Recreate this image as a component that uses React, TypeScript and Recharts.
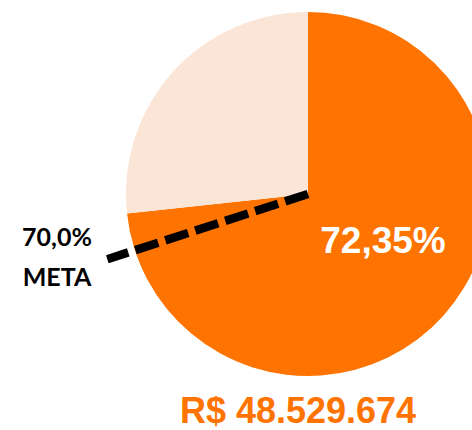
import React from "react";
import { PieChart, Pie, Cell } from "recharts";

// Slice shares as drawn in the picture (achieved vs. remaining)
const sliceNames = ["Realizado", "Restante"];
const sliceValues = [73.3, 26.7];
const sliceColors = ["#FF7300", "#FBE5D6"];

// Target ("meta") as a share of the whole
const metaValue = 70;

// Text shown on the chart
const achievedLabel = "72,35%";
const metaLabel = "70,0%";
const metaCaption = "META";
const totalLabel = "R$ 48.529.674";

const pieData = sliceNames.map((name, i) => ({ name, value: sliceValues[i] }));
const metaData = [
  { name: "meta", value: metaValue },
  { name: "rest", value: 100 - metaValue },
];

const RADIAN = Math.PI / 180;

// Dashed marker drawn along the end edge of the target slice
const renderMetaLine = (props: any) => {
  if (props.index !== 0) return null;
  const { cx, cy, endAngle, outerRadius } = props;
  const x2 = cx + outerRadius * Math.cos(-endAngle * RADIAN);
  const y2 = cy + outerRadius * Math.sin(-endAngle * RADIAN);
  return (
    <line
      x1={cx}
      y1={cy}
      x2={x2}
      y2={y2}
      stroke="#000"
      strokeWidth={8.5}
      strokeDasharray="24 7.5"
    />
  );
};

const App: React.FC = () => {
  return (
    <div style={{ position: "absolute", left: 0, top: 0, width: 472, height: 430, background: "#fff", overflow: "hidden" }}>
      <PieChart width={472} height={430} margin={{ top: 0, right: 0, bottom: 0, left: 0 }}>
        <Pie
          data={pieData}
          dataKey="value"
          cx={308}
          cy={194}
          outerRadius={182}
          startAngle={90}
          endAngle={-270}
          stroke="none"
          isAnimationActive={false}
        >
          {pieData.map((d, i) => (
            <Cell key={d.name} fill={sliceColors[i]} />
          ))}
        </Pie>
        <Pie
          data={metaData}
          dataKey="value"
          cx={308}
          cy={194}
          outerRadius={211}
          startAngle={90}
          endAngle={-270}
          fill="none"
          stroke="none"
          label={renderMetaLine}
          labelLine={false}
          isAnimationActive={false}
        />
      </PieChart>
      <svg width={472} height={430} style={{ position: "absolute", left: 0, top: 0, pointerEvents: "none" }}>
        <text x={383} y={253} textAnchor="middle" fill="#fff" fontFamily="Liberation Sans, Arial, sans-serif" fontWeight="bold" fontSize={37}>
          {achievedLabel}
        </text>
        <text x={57} y={246} textAnchor="middle" fill="#000" fontFamily="Lato, sans-serif" fontWeight="bold" fontSize={25}>
          {metaLabel}
        </text>
        <text x={57} y={286} textAnchor="middle" fill="#000" fontFamily="Lato, sans-serif" fontWeight="bold" fontSize={25}>
          {metaCaption}
        </text>
        <text x={298} y={423} textAnchor="middle" fill="#FF7300" fontFamily="Liberation Sans, Arial, sans-serif" fontWeight="bold" fontSize={36}>
          {totalLabel}
        </text>
      </svg>
    </div>
  );
};

export default App;
